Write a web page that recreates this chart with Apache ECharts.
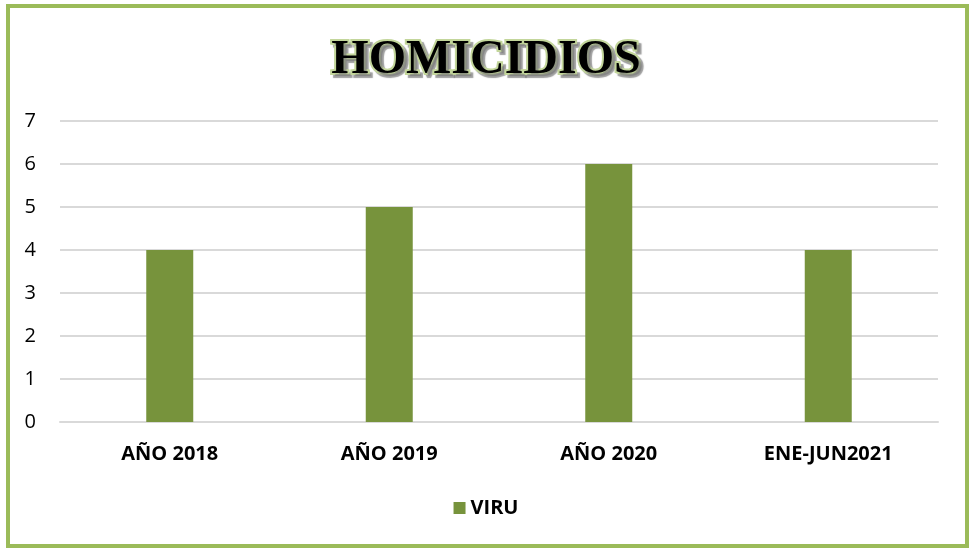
<!DOCTYPE html>
<html>
<head>
<meta charset="utf-8">
<script src="https://cdn.jsdelivr.net/npm/echarts@6/dist/echarts.min.js"></script>
<style>
  html, body { margin: 0; padding: 0; background: #fff; }
  #frame {
    position: absolute; left: 6px; top: 4px;
    width: 955px; height: 536px;
    border: 4px solid #9BBB59;
  }
  #chart { position: absolute; left: 0; top: 0; width: 972px; height: 551px; }
</style>
</head>
<body>
<div id="frame"></div>
<div id="chart"></div>
<script>
const categories = ['AÑO 2018', 'AÑO 2019', 'AÑO 2020', 'ENE-JUN2021'];
const viruValues = [4, 5, 6, 4];
const seriesName = 'VIRU';
const chartTitle = 'HOMICIDIOS';

const myChart = echarts.init(document.getElementById('chart'));

const option = {
    animation: false,
    title: {
        text: chartTitle,
        left: 'center',
        top: 32,
        textStyle: {
            fontFamily: 'Liberation Serif',
            fontWeight: 'bold',
            fontSize: 48,
            color: '#000',
            textBorderColor: '#C3D69B',
            textBorderWidth: 4,
            textShadowColor: 'rgba(120,120,120,0.7)',
            textShadowOffsetX: 3,
            textShadowOffsetY: 3,
            textShadowBlur: 1
        }
    },
    legend: {
        data: [seriesName],
        bottom: 28,
        left: 'center',
        itemWidth: 12,
        itemHeight: 12,
        itemGap: 6,
        icon: 'rect',
        textStyle: {
            fontFamily: 'Open Sans',
            fontWeight: 'bold',
            fontSize: 20,
            color: '#000'
        }
    },
    grid: {
        left: 60,
        right: 34,
        top: 121,
        bottom: 129,
        containLabel: false
    },
    xAxis: {
        type: 'category',
        data: categories,
        axisTick: { show: false },
        axisLine: { lineStyle: { color: '#D9D9D9', width: 2 } },
        axisLabel: {
            margin: 22,
            fontFamily: 'Open Sans',
            fontWeight: 'bold',
            fontSize: 20,
            color: '#000'
        }
    },
    yAxis: {
        type: 'value',
        min: 0,
        max: 7,
        interval: 1,
        axisLine: { show: false },
        axisTick: { show: false },
        splitLine: { lineStyle: { color: '#D9D9D9', width: 2 } },
        axisLabel: {
            margin: 24,
            fontFamily: 'Open Sans',
            fontSize: 20,
            color: '#000'
        }
    },
    series: [
        {
            name: seriesName,
            type: 'bar',
            data: viruValues,
            barWidth: 47,
            itemStyle: { color: '#77933C' }
        }
    ]
};
myChart.setOption(option);
</script>
</body>
</html>
